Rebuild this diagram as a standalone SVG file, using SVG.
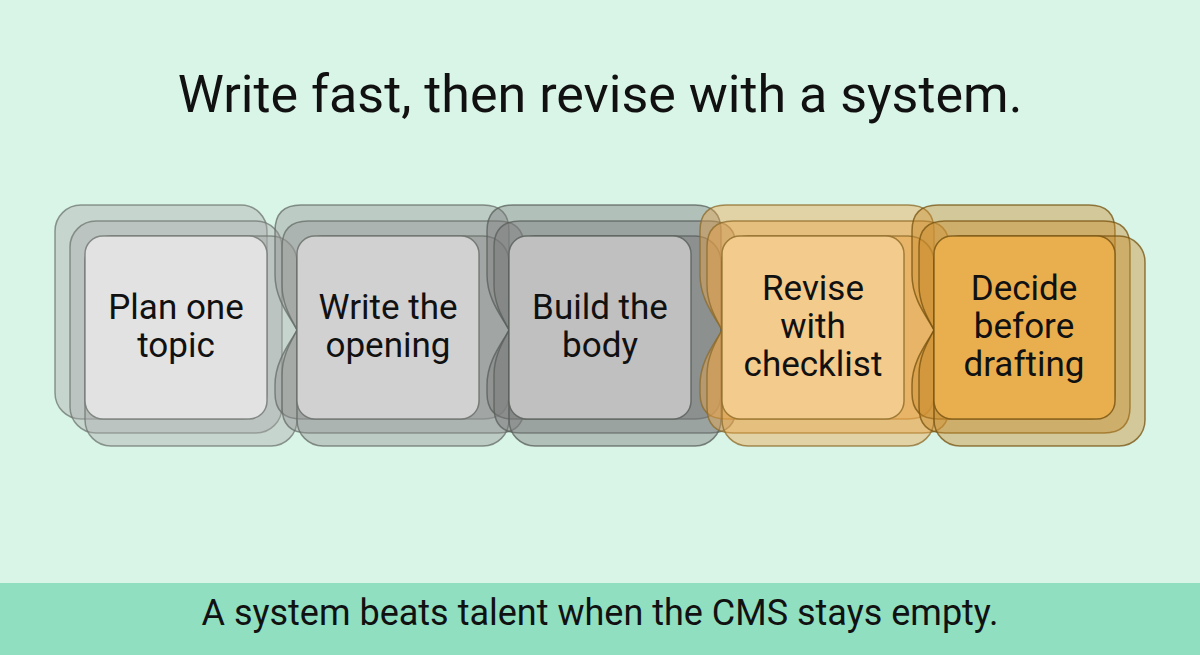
<svg xmlns="http://www.w3.org/2000/svg" width="1200" height="655" viewBox="0 0 1200 655">
<style>
text{font-family:Roboto,"Liberation Sans",sans-serif;fill:#111;text-anchor:middle}
.title{font-size:52px}
.foot{font-size:36px}
.lbl{font-size:35px}
.ly{fill-opacity:0.42;stroke-width:1.5;stroke-opacity:0.75}
.fr{stroke-width:1.5;stroke-opacity:0.8}
.g1 .ly{fill:#acacac;stroke:#6f7570}.g1 .fr{fill:#e2e2e2;stroke:#6f7570}
.g2 .ly{fill:#939393;stroke:#666c67}.g2 .fr{fill:#d1d1d1;stroke:#666c67}
.g3 .ly{fill:#7a7a7a;stroke:#585e59}.g3 .fr{fill:#c0c0c0;stroke:#585e59}
.g4 .ly{fill:#eba448;stroke:#8c6a28}.g4 .fr{fill:#f3cb8c;stroke:#8c6a28}
.g5 .ly{fill:#c98a2a;stroke:#76510f}.g5 .fr{fill:#e9af4f;stroke:#76510f}
</style>
<rect x="0" y="0" width="1200" height="655" fill="#d9f5e8"/>
<rect x="0" y="583" width="1200" height="72" fill="#8fdfc0"/>
<text class="title" x="600" y="112">Write fast, then revise with a system.</text>
<text class="foot" x="600" y="625">A system beats talent when the CMS stays empty.</text>
<g id="connectors"></g>
<g id="node1" class="g1">
<rect class="ly" x="55" y="205" width="212" height="214" rx="26"/>
<rect class="ly" x="70" y="221" width="212" height="212" rx="26"/>
<rect class="ly" x="85" y="236" width="212" height="210" rx="26"/>
<rect class="fr" x="85" y="236" width="182" height="183" rx="18"/>
<text class="lbl" x="176" y="319">Plan one</text>
<text class="lbl" x="176" y="357">topic</text>
</g>
<g id="node2" class="g2">
<path class="ly" d="M301,205 H483 Q509,205 509,231 V393 Q509,419 483,419 H301 Q275,419 275,393 V385 C275,360 291,342 297,330 C291,318 275,300 275,275 V231 Q275,205 301,205 Z"/>
<path class="ly" d="M308,221 H498 Q524,221 524,247 V407 Q524,433 498,433 H308 Q282,433 282,407 V375 C282,355 292,340 297,330 C292,320 282,305 282,285 V247 Q282,221 308,221 Z"/>
<rect class="ly" x="297" y="236" width="212" height="210" rx="26"/>
<rect class="fr" x="297" y="236" width="182" height="183" rx="18"/>
<text class="lbl" x="388" y="319">Write the</text>
<text class="lbl" x="388" y="357">opening</text>
</g>
<g id="node3" class="g3">
<path class="ly" d="M513,205 H695 Q721,205 721,231 V393 Q721,419 695,419 H513 Q487,419 487,393 V385 C487,360 503,342 509,330 C503,318 487,300 487,275 V231 Q487,205 513,205 Z"/>
<path class="ly" d="M520,221 H710 Q736,221 736,247 V407 Q736,433 710,433 H520 Q494,433 494,407 V375 C494,355 504,340 509,330 C504,320 494,305 494,285 V247 Q494,221 520,221 Z"/>
<rect class="ly" x="509" y="236" width="212" height="210" rx="26"/>
<rect class="fr" x="509" y="236" width="182" height="183" rx="18"/>
<text class="lbl" x="600" y="319">Build the</text>
<text class="lbl" x="600" y="357">body</text>
</g>
<g id="node4" class="g4">
<path class="ly" d="M726,205 H908 Q934,205 934,231 V393 Q934,419 908,419 H726 Q700,419 700,393 V385 C700,360 716,342 722,330 C716,318 700,300 700,275 V231 Q700,205 726,205 Z"/>
<path class="ly" d="M733,221 H923 Q949,221 949,247 V407 Q949,433 923,433 H733 Q707,433 707,407 V375 C707,355 717,340 722,330 C717,320 707,305 707,285 V247 Q707,221 733,221 Z"/>
<rect class="ly" x="722" y="236" width="212" height="210" rx="26"/>
<rect class="fr" x="722" y="236" width="182" height="183" rx="18"/>
<text class="lbl" x="813" y="300">Revise</text>
<text class="lbl" x="813" y="338">with</text>
<text class="lbl" x="813" y="376">checklist</text>
</g>
<g id="node5" class="g5">
<path class="ly" d="M938,205 H1089 Q1115,205 1115,231 V393 Q1115,419 1089,419 H938 Q912,419 912,393 V385 C912,360 928,342 934,330 C928,318 912,300 912,275 V231 Q912,205 938,205 Z"/>
<path class="ly" d="M945,221 H1104 Q1130,221 1130,247 V407 Q1130,433 1104,433 H945 Q919,433 919,407 V375 C919,355 929,340 934,330 C929,320 919,305 919,285 V247 Q919,221 945,221 Z"/>
<rect class="ly" x="934" y="236" width="211" height="210" rx="26"/>
<rect class="fr" x="934" y="236" width="181" height="183" rx="18"/>
<text class="lbl" x="1024" y="300">Decide</text>
<text class="lbl" x="1024" y="338">before</text>
<text class="lbl" x="1024" y="376">drafting</text>
</g>
</svg>
